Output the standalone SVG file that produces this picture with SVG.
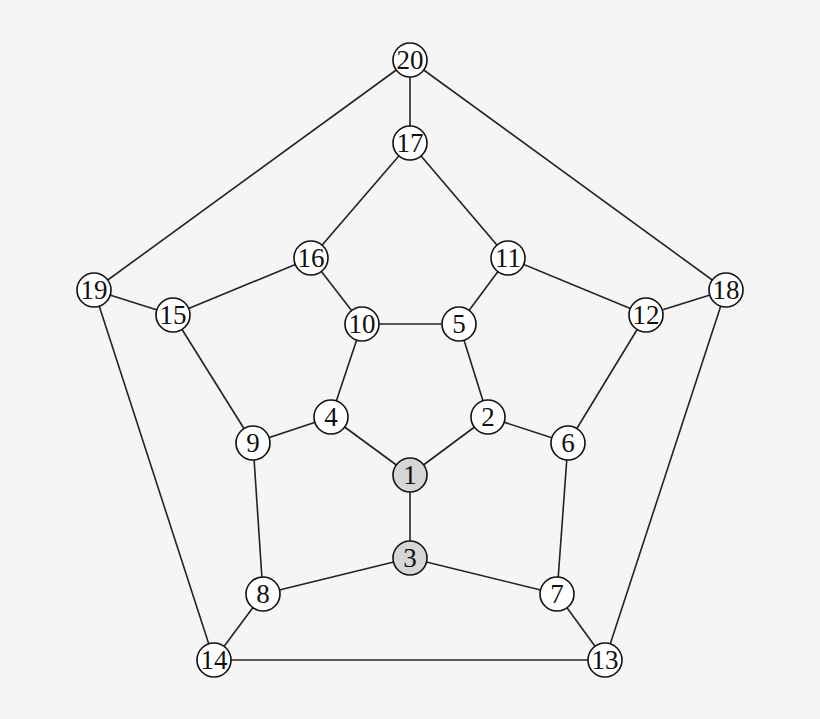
<svg xmlns="http://www.w3.org/2000/svg" width="820" height="719" viewBox="0 0 820 719">
<style>
.e{stroke:#222;stroke-width:1.6;fill:none}
.n circle{fill:#fff;stroke:#111;stroke-width:1.6}
.n.g circle{fill:#d6d6d6}
.n text{font-family:"Liberation Serif","DejaVu Serif",serif;font-size:27px;fill:#111;text-anchor:middle;dominant-baseline:central}
</style>
<rect width="820" height="719" fill="#f5f5f5"/>
<g id="edges" class="e">
<line x1="410" y1="60" x2="410" y2="143"/>
<line x1="410" y1="60" x2="94" y2="290"/>
<line x1="410" y1="60" x2="726" y2="290"/>
<line x1="410" y1="143" x2="311" y2="258"/>
<line x1="410" y1="143" x2="508" y2="258"/>
<line x1="311" y1="258" x2="173" y2="315"/>
<line x1="311" y1="258" x2="362" y2="324"/>
<line x1="508" y1="258" x2="459" y2="324"/>
<line x1="508" y1="258" x2="646" y2="315"/>
<line x1="94" y1="290" x2="173" y2="315"/>
<line x1="94" y1="290" x2="214" y2="660"/>
<line x1="726" y1="290" x2="646" y2="315"/>
<line x1="726" y1="290" x2="605" y2="660"/>
<line x1="173" y1="315" x2="253" y2="443"/>
<line x1="646" y1="315" x2="568" y2="443"/>
<line x1="362" y1="324" x2="459" y2="324"/>
<line x1="362" y1="324" x2="331" y2="417"/>
<line x1="459" y1="324" x2="488" y2="417"/>
<line x1="331" y1="417" x2="253" y2="443"/>
<line x1="331" y1="417" x2="410" y2="475"/>
<line x1="488" y1="417" x2="410" y2="475"/>
<line x1="488" y1="417" x2="568" y2="443"/>
<line x1="253" y1="443" x2="263" y2="594"/>
<line x1="568" y1="443" x2="557" y2="594"/>
<line x1="410" y1="475" x2="410" y2="558"/>
<line x1="410" y1="558" x2="263" y2="594"/>
<line x1="410" y1="558" x2="557" y2="594"/>
<line x1="263" y1="594" x2="214" y2="660"/>
<line x1="557" y1="594" x2="605" y2="660"/>
<line x1="214" y1="660" x2="605" y2="660"/>
</g>
<g id="n20" class="n"><circle cx="410" cy="60" r="17"/><text x="410" y="60">20</text></g>
<g id="n17" class="n"><circle cx="410" cy="143" r="17"/><text x="410" y="143">17</text></g>
<g id="n16" class="n"><circle cx="311" cy="258" r="17"/><text x="311" y="258">16</text></g>
<g id="n11" class="n"><circle cx="508" cy="258" r="17"/><text x="508" y="258">11</text></g>
<g id="n19" class="n"><circle cx="94" cy="290" r="17"/><text x="94" y="290">19</text></g>
<g id="n18" class="n"><circle cx="726" cy="290" r="17"/><text x="726" y="290">18</text></g>
<g id="n15" class="n"><circle cx="173" cy="315" r="17"/><text x="173" y="315">15</text></g>
<g id="n12" class="n"><circle cx="646" cy="315" r="17"/><text x="646" y="315">12</text></g>
<g id="n10" class="n"><circle cx="362" cy="324" r="17"/><text x="362" y="324">10</text></g>
<g id="n5" class="n"><circle cx="459" cy="324" r="17"/><text x="459" y="324">5</text></g>
<g id="n4" class="n"><circle cx="331" cy="417" r="17"/><text x="331" y="417">4</text></g>
<g id="n2" class="n"><circle cx="488" cy="417" r="17"/><text x="488" y="417">2</text></g>
<g id="n9" class="n"><circle cx="253" cy="443" r="17"/><text x="253" y="443">9</text></g>
<g id="n6" class="n"><circle cx="568" cy="443" r="17"/><text x="568" y="443">6</text></g>
<g id="n1" class="n g"><circle cx="410" cy="475" r="17"/><text x="410" y="475">1</text></g>
<g id="n3" class="n g"><circle cx="410" cy="558" r="17"/><text x="410" y="558">3</text></g>
<g id="n8" class="n"><circle cx="263" cy="594" r="17"/><text x="263" y="594">8</text></g>
<g id="n7" class="n"><circle cx="557" cy="594" r="17"/><text x="557" y="594">7</text></g>
<g id="n14" class="n"><circle cx="214" cy="660" r="17"/><text x="214" y="660">14</text></g>
<g id="n13" class="n"><circle cx="605" cy="660" r="17"/><text x="605" y="660">13</text></g>
</svg>
